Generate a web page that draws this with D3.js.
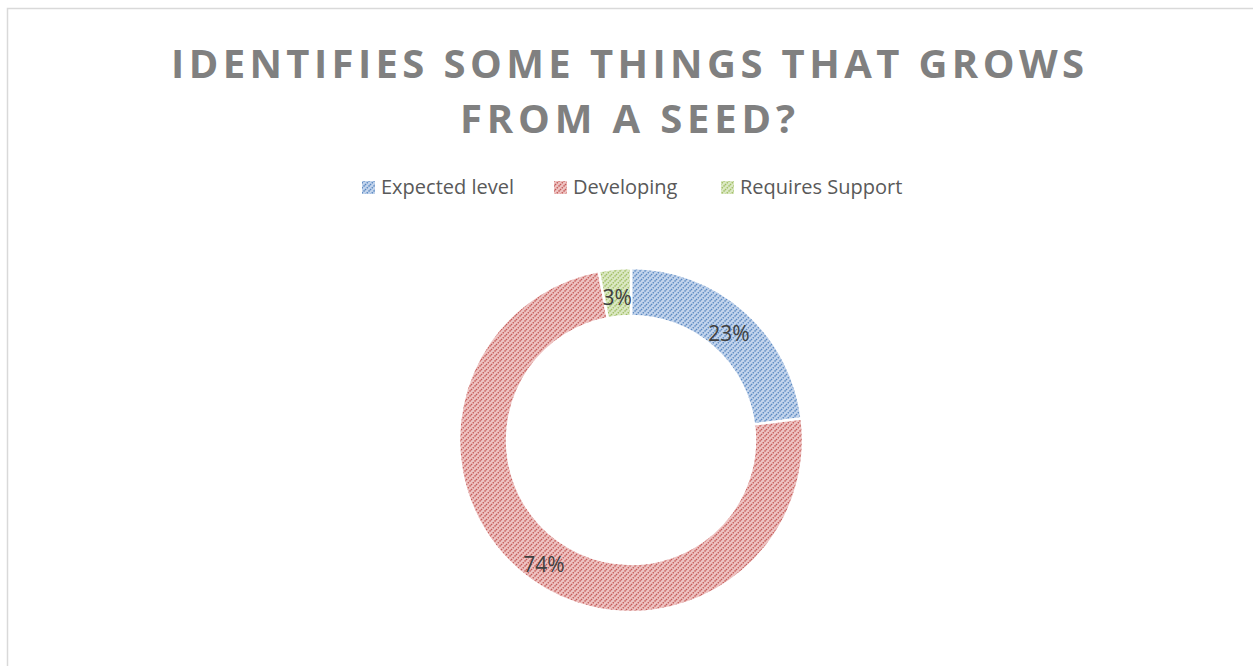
<!DOCTYPE html>
<html>
<head>
<meta charset="utf-8">
<script src="https://cdn.jsdelivr.net/npm/d3@7/dist/d3.min.js"></script>
<style>
  body { margin: 0; background: #ffffff; }
  svg { display: block; }
</style>
</head>
<body>
<svg id="graphique" width="1253" height="666"></svg>
<script>
// donnees du graphique
var categories = ["Expected level", "Developing", "Requires Support"];
var valeurs = [23, 74, 3];
var etiquettes = ["23%", "74%", "3%"];
var couleurs = ["#4F81BD", "#C0504D", "#9BBB59"];
var couleursClaires = ["#c3d4ec", "#eec3c2", "#dbe8c4"];
var titreLignes = ["IDENTIFIES SOME THINGS THAT GROWS", "FROM A SEED?"];

var WIDTH = 1253;
var HEIGHT = 666;
var graphique = d3.select("#graphique");

// cadre du graphique
graphique.append("rect")
  .attr("x", 7.5).attr("y", 8.5)
  .attr("width", 1300).attr("height", 700)
  .attr("fill", "#ffffff")
  .attr("stroke", "#d9d9d9")
  .attr("stroke-width", 1.5);

// motifs pointilles (comme Excel)
var defs = graphique.append("defs");
couleurs.forEach(function(c, i){
  var p = defs.append("pattern")
    .attr("id", "motif" + i)
    .attr("patternUnits", "userSpaceOnUse")
    .attr("width", 5).attr("height", 5);
  p.append("rect").attr("width", 5).attr("height", 5).attr("fill", couleursClaires[i]);
  p.append("path")
    .attr("d", "M0,5 L5,0 M-1,1 L1,-1 M4,6 L6,4")
    .attr("stroke", c)
    .attr("stroke-width", 1.5)
    .attr("stroke-dasharray", "1.5,1")
    .attr("opacity", 0.9);
});

// titre
var titre = graphique.append("g");
var largeurs = [913, 335];
var basesY = [78, 133];
titreLignes.forEach(function(t, i){
  titre.append("text")
    .attr("x", WIDTH / 2 + 1)
    .attr("y", basesY[i])
    .attr("text-anchor", "middle")
    .attr("font-family", "'Open Sans', 'Noto Sans', sans-serif")
    .attr("font-weight", "bold")
    .attr("font-size", 40)
    .attr("fill", "#808080")
    .attr("textLength", largeurs[i])
    .attr("lengthAdjust", "spacing")
    .text(t);
});

// legende
var legendeX = [362, 554, 721];
var legende = graphique.append("g");
categories.forEach(function(cat, i){
  legende.append("rect")
    .attr("x", legendeX[i]).attr("y", 181)
    .attr("width", 13).attr("height", 13)
    .attr("fill", "url(#motif" + i + ")");
  legende.append("text")
    .attr("x", legendeX[i] + 19)
    .attr("y", 194)
    .attr("font-family", "'Open Sans', 'Noto Sans', sans-serif")
    .attr("font-size", 20)
    .attr("fill", "#595959")
    .text(cat);
});

// anneau
var cx = 631, cy = 440;
var rayonExt = 172, rayonInt = 124;

var pie = d3.pie().sort(null).value(function(d){ return d; });
var arc = d3.arc().innerRadius(rayonInt).outerRadius(rayonExt);
var arcs = pie(valeurs);

var anneau = graphique.append("g")
  .attr("transform", "translate(" + cx + "," + cy + ")");

anneau.selectAll("path")
  .data(arcs)
  .enter()
  .append("path")
  .attr("d", arc)
  .attr("fill", function(d, i){ return "url(#motif" + i + ")"; })
  .attr("stroke", "#ffffff")
  .attr("stroke-width", 2.5);

anneau.selectAll("text")
  .data(arcs)
  .enter()
  .append("text")
  .attr("x", function(d){ return arc.centroid(d)[0]; })
  .attr("y", function(d){ return arc.centroid(d)[1] + 12; })
  .attr("text-anchor", "middle")
  .attr("font-family", "'Open Sans', 'Noto Sans', sans-serif")
  .attr("font-size", 21)
  .attr("fill", "#404040")
  .text(function(d, i){ return etiquettes[i]; });
</script>
</body>
</html>
